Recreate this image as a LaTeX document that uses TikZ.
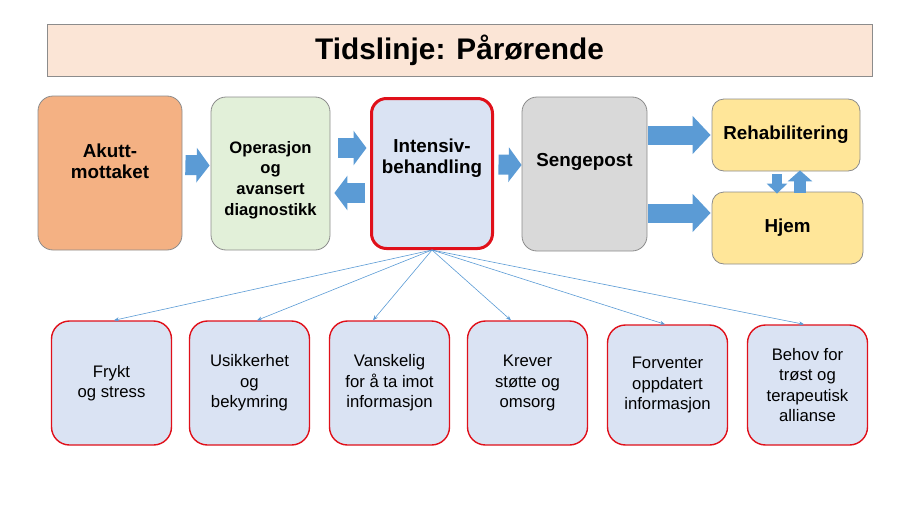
\documentclass[tikz,border=0pt]{standalone}
\usepackage{fontspec}
\setmainfont{Liberation Sans}
\usetikzlibrary{arrows.meta}
\definecolor{peach}{HTML}{FBE5D6}
\definecolor{akuttorange}{HTML}{F4B183}
\definecolor{opgreen}{HTML}{E2F0D9}
\definecolor{icublue}{HTML}{DAE3F3}
\definecolor{senggray}{HTML}{D9D9D9}
\definecolor{homeyellow}{HTML}{FFE699}
\definecolor{arrowblue}{HTML}{5B9BD5}
\definecolor{boxred}{HTML}{E0101A}
\definecolor{edgegray}{HTML}{8C8C8C}

\begin{document}
\begin{tikzpicture}[x=1pt, y=-1pt,
    topbox/.style={draw=edgegray, line width=0.8pt, rounded corners=15pt, inner sep=0pt},
    toptext/.style={align=center, font=\bfseries\fontsize{18.8}{21}\selectfont},
    feelbox/.style={draw=boxred, line width=1.4pt, fill=icublue, rounded corners=18pt,
        minimum width=120pt, inner sep=0pt, align=center, font=\fontsize{16.7}{20.5}\selectfont},
    blockarrow/.style={arrowblue, line width=20pt, -{Triangle[length=13pt, width=34pt]}},
    link/.style={arrowblue, line width=0.6pt, -{Stealth[length=5pt, width=4pt]}}]
        \useasboundingbox (0,0) rectangle (900,506);

        % Title
        \node[draw=edgegray, line width=0.8pt, fill=peach, minimum width=825pt, minimum height=52pt] (title) at (459.5,50)
            {\bfseries\fontsize{29.8}{34}\selectfont Tidslinje: Pårørende};

        % Draw nodes
        \node[topbox, fill=akuttorange, minimum width=144pt, minimum height=154pt] (akutt) at (110,173) {};
        \node[topbox, fill=opgreen, minimum width=119pt, minimum height=153pt] (operasjon) at (270.5,173.5) {};
        \node[topbox, draw=boxred, line width=3pt, fill=icublue, minimum width=121pt, minimum height=150pt] (intensiv) at (432,173.5) {};
        \node[topbox, fill=senggray, minimum width=125pt, minimum height=154pt] (sengepost) at (584.5,174) {};
        \node[topbox, rounded corners=12pt, fill=homeyellow, minimum width=148pt, minimum height=72pt] (rehab) at (786,135) {};
        \node[topbox, rounded corners=12pt, fill=homeyellow, minimum width=151pt, minimum height=72pt] (hjem) at (787.5,228) {};

        % Labels
        \node[toptext] (akutt-txt) at (110,161) {Akutt-\\mottaket};
        \node[toptext, font=\bfseries\fontsize{16.6}{20.7}\selectfont] (operasjon-txt) at (270.5,180) {Operasjon\\og\\avansert\\diagnostikk};
        \node[toptext] (intensiv-txt) at (432,158) {Intensiv-\\behandling};
        \node[toptext] (sengepost-txt) at (584.5,162) {Sengepost};
        \node[toptext] (rehab-txt) at (786,135) {Rehabilitering};
        \node[toptext] (hjem-txt) at (787.5,228) {Hjem};

        % Draw block arrows
        \draw[blockarrow] ([xshift=3pt, yshift=8pt]akutt.east) -- ([xshift=-1pt, yshift=8pt]operasjon.west);
        \draw[blockarrow] ([xshift=8pt, yshift=25.5pt]operasjon.east) -- ([xshift=-3.5pt, yshift=25.5pt]intensiv.west);
        \draw[blockarrow] ([xshift=-5pt, yshift=-19.5pt]intensiv.west) -- ([xshift=4pt, yshift=-19.5pt]operasjon.east);
        \draw[blockarrow] ([xshift=4.5pt, yshift=9pt]intensiv.east) -- ([yshift=9pt]sengepost.west);
        \draw[blockarrow, line width=19pt, -{Triangle[length=18pt, width=37pt]}]
            ([xshift=1pt]sengepost.east |- rehab.west) -- ([xshift=-1pt]rehab.west);
        \draw[blockarrow, line width=19pt, -{Triangle[length=18pt, width=37pt]}]
            ([xshift=1pt, yshift=-39pt]sengepost.east) -- ([xshift=-1pt, yshift=15pt]hjem.west);
        \draw[blockarrow, line width=10pt, -{Triangle[length=10pt, width=20pt]}]
            ([xshift=-9pt, yshift=-3pt]rehab.south) -- ([xshift=-10.5pt, yshift=-2pt]hjem.north);
        \draw[blockarrow, line width=12pt, -{Triangle[length=11pt, width=24pt]}]
            ([xshift=12.5pt, yshift=-1pt]hjem.north) -- ([xshift=14pt, yshift=1pt]rehab.south);

        % Draw bottom nodes
        \node[feelbox, minimum height=124pt] (frykt) at (111.5,383) {Frykt\\og stress};
        \node[feelbox, minimum height=124pt] (usikker) at (249.5,383) {Usikkerhet\\og\\bekymring};
        \node[feelbox, minimum height=124pt] (vanskelig) at (389.5,383) {Vanskelig\\for å ta imot\\informasjon};
        \node[feelbox, minimum height=124pt] (krever) at (527.5,383) {Krever\\støtte og\\omsorg};
        \node[feelbox, minimum height=120pt] (forventer) at (667.5,385) {Forventer\\oppdatert\\informasjon};
        \node[feelbox, minimum height=120pt] (behov) at (807.5,385) {Behov for\\trøst og\\terapeutisk\\allianse};

        % Draw connections
        \draw[link] (intensiv.south) -- ([xshift=2.5pt]frykt.north);
        \draw[link] (intensiv.south) -- ([xshift=7.5pt]usikker.north);
        \draw[link] (intensiv.south) -- ([xshift=-16.5pt]vanskelig.north);
        \draw[link] (intensiv.south) -- ([xshift=-16.5pt]krever.north);
        \draw[link] (intensiv.south) -- ([xshift=-2.5pt]forventer.north);
        \draw[link] (intensiv.south) -- ([xshift=-3.5pt]behov.north);
    \end{tikzpicture}
\end{document}
